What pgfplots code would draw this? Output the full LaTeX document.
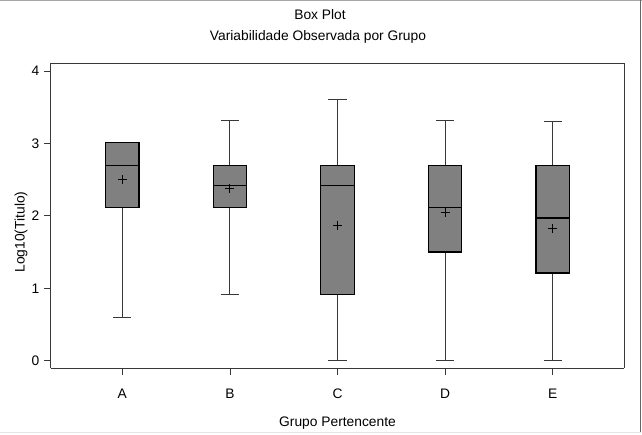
\documentclass[border=0pt]{standalone}
\usepackage{fontspec}
\setmainfont{Liberation Sans}
\usepackage{pgfplots}
\pgfplotsset{compat=1.18}
\usepgfplotslibrary{statistics}
\definecolor{boxgray}{HTML}{808080}
\definecolor{axgray}{HTML}{383838}
\begin{document}
\begin{tikzpicture}[x=1bp,y=1bp,font=\fontsize{13.8bp}{16bp}\selectfont]
\path[use as bounding box] (0,0) rectangle (642,435);
\draw[gray!70, line width=1.5bp] (0,434.5) -- (642,434.5);
\draw[gray!80!black, line width=1bp] (640.5,435) -- (640.5,2);
\draw[gray!20, line width=1bp] (0,2.3) -- (641,2.3);
\node at (320,420) {Box Plot};
\node at (318,398) {Variabilidade Observada por Grupo};
\node at (337.5,12.3) {Grupo Pertencente};
\node[rotate=90] at (21,203) {Log10(Titulo)};
\begin{axis}[
  at={(50.7bp,66.7bp)}, anchor=south west,
  scale only axis, width=573.6bp, height=305bp,
  xmin=0.334, xmax=5.666, ymin=-0.105, ymax=4.106,
  xtick={1,2,3,4,5}, xticklabels={A,B,C,D,E},
  ytick={0,1,2,3,4},
  tick align=outside, major tick length=7bp,
  tick style={axgray, line width=0.8bp},
  axis line style={axgray, line width=1bp},
  every axis/.append style={axgray},
  axis x line*=bottom, axis y line*=left,
  /pgf/number format/assume math mode=true,
  tick label style={font=\fontsize{13.8bp}{16bp}\selectfont, black},
  xticklabel style={yshift=-10bp},
  yticklabel style={xshift=-1bp},
  boxplot/draw direction=y,
  boxplot/box extend=0.31,
  boxplot/whisker extend=0.17,
  boxplot/every box/.style={draw=black, line width=1.1bp, fill=boxgray},
  boxplot/every median/.style={draw=black, line width=1.2bp},
  boxplot/every whisker/.style={draw=axgray, line width=0.9bp},
  clip=false,
]
\draw[axgray, line width=1bp] (axis cs:0.334,4.106) -- (axis cs:5.666,4.106) -- (axis cs:5.666,-0.105);
\addplot[boxplot prepared={draw position=1, lower whisker=0.60, lower quartile=2.11, median=2.70, upper quartile=3.01, upper whisker=3.01}] coordinates {};
\addplot[boxplot prepared={draw position=2, lower whisker=0.91, lower quartile=2.11, median=2.42, upper quartile=2.70, upper whisker=3.32}] coordinates {};
\addplot[boxplot prepared={draw position=3, lower whisker=0.0, lower quartile=0.91, median=2.42, upper quartile=2.70, upper whisker=3.60}] coordinates {};
\addplot[boxplot prepared={draw position=4, lower whisker=0.0, lower quartile=1.50, median=2.11, upper quartile=2.70, upper whisker=3.32}] coordinates {};
\addplot[boxplot prepared={draw position=5, lower whisker=0.0, lower quartile=1.21, median=1.97, upper quartile=2.70, upper whisker=3.30}] coordinates {};
\addplot[only marks, mark=+, mark size=4.5bp, mark options={black, line width=0.9bp}] coordinates {(1,2.50) (2,2.38) (3,1.87) (4,2.04) (5,1.82)};
\end{axis}
\end{tikzpicture}
\end{document}
